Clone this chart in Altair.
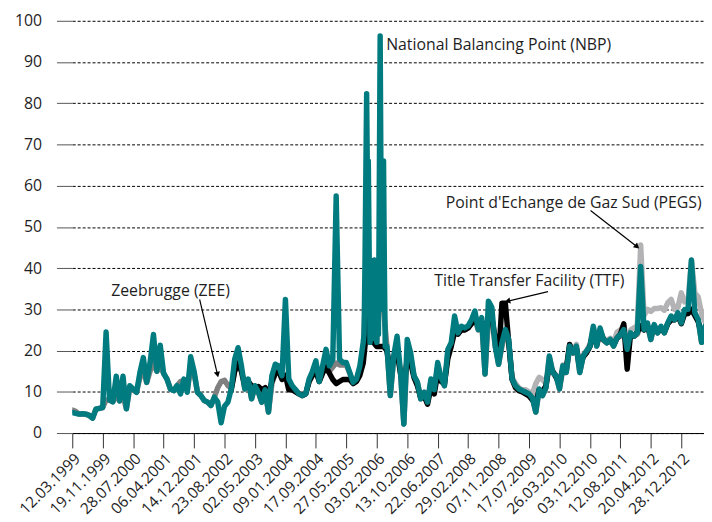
import altair as alt
import pandas as pd

# ---------------- data ----------------
START = "1999-03-12"          # first observation
STEP_DAYS = 28                # sampling interval of the series below

NBP = [
    5.0, 4.8, 4.6, 4.7, 4.6, 4.3, 3.6, 5.8, 6.0, 6.2,
    24.5, 8.0, 7.6, 13.8, 7.8, 13.8, 5.9, 11.5, 10.7, 9.9,
    14.7, 18.3, 12.3, 17.1, 23.9, 15.0, 21.3, 14.5, 13.1, 10.7,
    10.3, 11.5, 9.5, 13.1, 9.9, 18.5, 15.0, 9.9, 9.1, 7.9,
    7.5, 6.7, 8.7, 7.5, 2.5, 6.5, 7.5, 10.7, 17.9, 20.7,
    16.3, 10.7, 13.1, 8.3, 11.5, 9.9, 7.5, 10.5, 5.1, 13.9,
    16.7, 16.3, 13.9, 32.4, 13.1, 11.5, 10.5, 9.5, 9.1, 9.5,
    13.1, 15.0, 17.5, 12.5, 16.3, 20.3, 16.3, 17.9, 57.5, 17.9,
    17.1, 17.1, 14.7, 12.3, 13.1, 16.3, 22.0, 82.3, 22.0, 23.0,
    22.0, 96.3, 66.0, 21.1, 9.1, 18.7, 23.5, 15.0, 2.2, 22.7,
    19.5, 13.9, 12.3, 8.3, 9.9, 7.5, 13.1, 10.5, 17.1, 13.5,
    11.5, 20.3, 21.9, 28.4, 24.3, 25.9, 25.5, 26.0, 27.5, 29.6,
    25.1, 28.0, 14.3, 32.0, 30.5, 21.1, 16.7, 21.9, 25.1, 22.7,
    13.1, 11.5, 10.7, 10.3, 9.9, 9.5, 8.5, 5.1, 10.7, 9.1,
    11.0, 18.7, 14.7, 13.9, 10.7, 16.3, 14.7, 21.1, 19.5, 21.1,
    14.7, 18.7, 19.9, 21.0, 25.9, 21.1, 25.5, 22.7, 21.9, 22.7,
    21.1, 23.1, 23.9, 25.1, 20.3, 24.3, 23.5, 24.3, 40.4, 25.1,
    26.7, 22.7, 26.3, 24.3, 25.9, 24.3, 26.7, 28.4, 27.5, 29.2,
    26.7, 30.0, 30.0, 42.0, 29.2, 27.5, 22.0, 25.9,
]

# extra NBP observations in the very volatile winter 2005/06
NBP_EXTRA_DATES = ["2005-10-21", "2005-10-28", "2005-11-18", "2005-11-25",
                   "2005-12-16", "2005-12-23", "2006-01-13", "2006-01-20",
                   "2006-02-10", "2006-02-17", "2006-03-10", "2006-03-17",
                   "2006-04-07", "2006-04-14"]
NBP_EXTRA = [24.0, 40.0, 60.0, 66.0, 40.0, 24.0, 42.0, 24.0,
             42.0, 24.0, 60.0, 30.0, 40.0, 21.0]

ZEE = [
    5.6, 5.3, 4.6, 4.7, 4.6, 4.3, 3.6, 5.8, 6.0, 6.2,
    8.0, 8.0, 7.6, 9.0, 7.8, 9.0, 5.9, 11.0, 10.5, 9.9,
    13.5, 15.0, 12.3, 15.0, 17.0, 15.0, 16.0, 14.5, 13.1, 10.7,
    10.3, 11.5, 12.5, 12.8, 10.5, 15.5, 14.5, 9.9, 9.1, 7.9,
    7.5, 6.7, 8.7, 11.0, 12.5, 12.8, 11.5, 11.0, 15.0, 17.0,
    15.0, 10.7, 12.5, 8.3, 11.0, 9.9, 7.5, 10.0, 5.1, 12.0,
    14.5, 15.0, 13.5, 14.0, 12.5, 11.0, 10.5, 9.5, 9.1, 9.5,
    12.5, 14.5, 15.0, 12.5, 15.0, 16.5, 15.0, 16.0, 17.0, 16.5,
    16.5, 16.5, 14.5, 12.3, 13.0, 15.5, 20.0, 40.0, 22.0, 22.0,
    22.0, 40.0, 30.0, 21.0, 9.1, 18.0, 20.0, 15.0, 2.2, 20.0,
    18.5, 13.9, 12.3, 8.3, 9.9, 7.5, 12.5, 10.5, 16.0, 13.0,
    11.5, 19.5, 21.5, 26.0, 24.0, 25.5, 25.0, 25.5, 27.0, 27.5,
    25.0, 27.0, 14.3, 28.0, 28.0, 21.1, 16.7, 21.0, 24.5, 22.0,
    13.1, 11.5, 10.7, 10.3, 9.9, 9.5, 8.5, 5.1, 10.5, 9.1,
    11.0, 17.5, 14.7, 13.9, 10.7, 15.5, 14.7, 20.5, 19.5, 20.5,
    14.7, 18.5, 19.5, 21.0, 24.5, 21.1, 24.5, 22.5, 21.9, 22.5,
    21.1, 23.0, 23.5, 25.0, 20.3, 24.0, 23.5, 24.0, 26.0, 25.0,
    26.0, 22.7, 26.0, 24.3, 25.5, 24.3, 26.5, 27.5, 27.5, 28.5,
    26.7, 29.0, 29.0, 30.0, 29.0, 27.5, 22.0, 25.5,
]

TTF_FIRST = 47   # index of the first TTF observation
TTF = [
    10.5, 15.0, 17.0,
    15.0, 11.5, 12.5, 11.5, 11.0, 11.3, 10.5, 11.0, 9.5, 12.5,
    14.5, 15.0, 13.0, 14.0, 10.5, 10.5, 10.0, 9.5, 9.1, 9.5,
    12.5, 14.0, 15.0, 12.5, 14.5, 16.0, 14.5, 13.0, 12.0, 12.5,
    13.0, 13.0, 13.0, 12.0, 12.5, 14.0, 17.0, 25.0, 29.0, 22.0,
    21.0, 21.0, 21.0, 20.0, 15.0, 18.0, 20.0, 14.5, 11.0, 18.0,
    17.0, 13.5, 11.5, 8.5, 9.0, 7.0, 11.0, 9.5, 14.5, 12.5,
    12.0, 18.0, 21.0, 24.5, 24.0, 25.0, 25.0, 25.5, 26.5, 27.5,
    26.0, 27.0, 25.0, 28.0, 28.0, 23.0, 18.0, 31.5, 31.5, 22.0,
    13.0, 11.0, 10.3, 10.0, 9.5, 9.0, 8.0, 7.5, 10.5, 10.0,
    11.5, 16.5, 15.0, 13.5, 12.0, 15.5, 15.5, 21.5, 19.5, 20.5,
    16.0, 18.5, 19.5, 21.0, 24.5, 21.5, 24.5, 22.7, 22.0, 22.5,
    21.5, 23.0, 24.0, 26.5, 15.5, 24.0, 23.5, 24.5, 26.0, 25.0,
    26.0, 23.5, 26.0, 24.5, 25.5, 24.5, 26.5, 27.5, 27.5, 28.5,
    26.5, 29.0, 29.0, 30.0, 28.5, 27.0, 24.0, 25.5,
]

PEGS_FIRST = 130  # index of the first PEGS observation
PEGS = [
    13.5, 12.0, 11.0, 10.5, 10.5, 10.0, 9.5, 12.0, 13.5, 13.0,
    12.0, 18.5, 15.0, 14.0, 12.0, 16.5, 15.5, 21.5, 20.0, 21.5,
    16.0, 19.0, 20.0, 21.5, 25.5, 22.0, 25.0, 23.0, 22.5, 23.0,
    22.0, 24.5, 25.0, 26.0, 22.5, 25.0, 25.5, 26.0, 45.6, 28.5,
    30.0, 29.5, 30.2, 30.2, 30.4, 29.8, 31.6, 32.4, 30.0, 30.5,
    34.0, 31.8, 32.0, 42.0, 34.0, 33.0, 29.0, 27.0,
]

TICK_LABELS = ["12.03.1999", "19.11.1999", "28.07.2000", "06.04.2001",
               "14.12.2001", "23.08.2002", "02.05.2003", "09.01.2004",
               "17.09.2004", "27.05.2005", "03.02.2006", "13.10.2006",
               "22.06.2007", "29.02.2008", "07.11.2008", "17.07.2009",
               "26.03.2010", "03.12.2010", "12.08.2011", "20.04.2012",
               "28.12.2012"]
Y_TICKS = [0, 10, 20, 30, 40, 50, 60, 70, 80, 90, 100]

# ---------------- build tables ----------------
base = pd.Timestamp(START)
all_dates = [(base + pd.Timedelta(days=STEP_DAYS * i)).strftime("%Y-%m-%d")
             for i in range(len(NBP))]

rows = []
for d, v in zip(all_dates, NBP):
    rows.append((d, v, "NBP"))
for d, v in zip(NBP_EXTRA_DATES, NBP_EXTRA):
    rows.append((d, v, "NBP"))
for d, v in zip(all_dates, ZEE):
    rows.append((d, v, "ZEE"))
for d, v in zip(all_dates[TTF_FIRST:], TTF):
    rows.append((d, v, "TTF"))
for d, v in zip(all_dates[PEGS_FIRST:], PEGS):
    rows.append((d, v, "PEGS"))
df = pd.DataFrame(rows, columns=["date", "value", "series"]).sort_values(["series", "date"])


def dt(s):
    d, m, y = s.split(".")
    return alt.DateTime(year=int(y), month=int(m), date=int(d), utc=True)


tick_values = [dt(s) for s in TICK_LABELS]

FONT = "Open Sans"
TXT = "#1e1e1e"

x_scale = alt.Scale(type="utc",
                    domain=[alt.DateTime(year=1999, month=3, date=12, utc=True),
                            alt.DateTime(year=2013, month=7, date=4, utc=True)])
y_scale = alt.Scale(domain=[0, 100], nice=False)

x_axis = alt.Axis(values=tick_values,
                  labelExpr="utcFormat(datum.value, '%d.%m.%Y')",
                  labelAngle=-45, labelAlign="right", labelBaseline="top",
                  labelFont=FONT, labelFontSize=15.5, labelColor=TXT,
                  labelPadding=3, labelOverlap=False, labelBound=False,
                  tickSize=15, tickColor="#333333", tickWidth=1,
                  domainColor="black", domainWidth=1,
                  grid=False, title=None)
y_axis = alt.Axis(values=Y_TICKS, grid=True, gridColor="black", gridDash=[3, 2],
                  gridWidth=1, domain=False, tickSize=16, tickColor="#555555",
                  labelFont=FONT, labelFontSize=16, labelColor=TXT,
                  labelPadding=15, title=None)

x_enc = alt.X("date:T", scale=x_scale, axis=x_axis)
y_enc = alt.Y("value:Q", scale=y_scale, axis=y_axis)

colors = {"PEGS": "#b3b3b6", "ZEE": "#808080", "TTF": "#000000", "NBP": "#007b80"}
layers = []
for name in ["PEGS", "ZEE", "TTF", "NBP"]:
    layers.append(
        alt.Chart(df).transform_filter(alt.datum.series == name)
        .mark_line(color=colors[name], strokeWidth=5.5, strokeJoin="round",
                   strokeCap="round", clip=True)
        .encode(x=x_enc, y=y_enc)
    )

# ---------------- annotations ----------------
ann_left = pd.DataFrame({"date": ["2006-04-22"], "value": [94.0],
                         "label": ["National Balancing Point (NBP)"]})
ann_center = pd.DataFrame({
    "date": ["2010-07-22", "2009-07-19", "2001-06-02"],
    "value": [55.9, 36.8, 34.4],
    "label": ["Point d'Echange de Gaz Sud (PEGS)", "Title Transfer Facility (TTF)",
              "Zeebrugge (ZEE)"],
})
arrows = pd.DataFrame({
    "date": ["2010-12-08", "2009-12-21", "2002-01-29"],
    "value": [54.0, 34.3, 32.4],
    "date2": ["2011-12-28", "2009-01-20", "2002-06-26"],
    "value2": [45.2, 32.0, 14.2],
    "angle": [41.0, 166.6, 76.8],
})

t_left = alt.Chart(ann_left).mark_text(
    align="left", baseline="middle", font=FONT, fontSize=16, color=TXT
).encode(x=x_enc, y=y_enc, text="label:N")
t_center = alt.Chart(ann_center).mark_text(
    align="center", baseline="middle", font=FONT, fontSize=16, color=TXT
).encode(x=x_enc, y=y_enc, text="label:N")
a_shaft = alt.Chart(arrows).mark_rule(color="black", strokeWidth=1.2).encode(
    x=x_enc, y=y_enc, x2="date2:T", y2="value2:Q")
a_head = alt.Chart(arrows).mark_point(
    shape="triangle-right", filled=True, color="black", size=40, opacity=1
).encode(x=alt.X("date2:T", scale=x_scale, axis=x_axis),
         y=alt.Y("value2:Q", scale=y_scale, axis=y_axis),
         angle=alt.Angle("angle:Q", scale=None))

chart = alt.layer(*layers, a_shaft, a_head, t_left, t_center).properties(
    width=639, height=417,
    padding={"left": 6, "top": 2, "right": 0, "bottom": 0},
).configure_view(stroke=None).configure_axisX(labelOverlap=False)

chart.save("out.html", embed_options={"renderer": "svg", "actions": False})
